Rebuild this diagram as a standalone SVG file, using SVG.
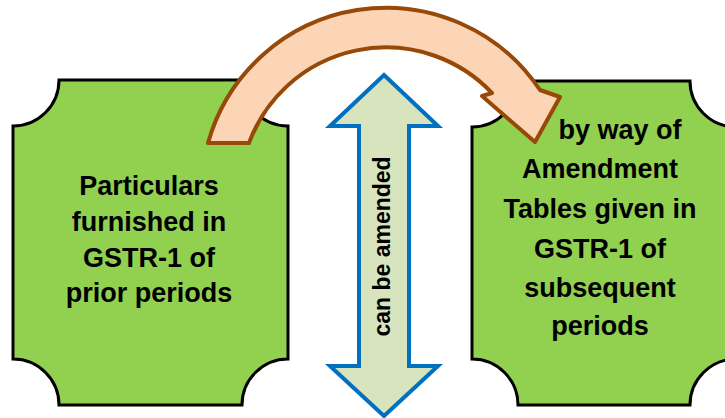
<svg xmlns="http://www.w3.org/2000/svg" width="725" height="418" viewBox="0 0 725 418">
  <style>
    .plaque { fill: #92D050; stroke: #000000; stroke-width: 3; stroke-linejoin: miter; }
    .label { font-family: "Liberation Sans", Arial, sans-serif; font-weight: bold; font-size: 27px; fill: #000000; text-anchor: middle; }
    .updown { fill: #D7E4BD; stroke: #0070C0; stroke-width: 4; stroke-linejoin: miter; }
    .curve { fill: #FBD5B5; stroke: #984807; stroke-width: 4; stroke-linejoin: round; }
    .vlabel { font-family: "Liberation Sans", Arial, sans-serif; font-weight: bold; font-size: 23px; fill: #000000; text-anchor: middle; }
  </style>

  <rect width="725" height="418" fill="#FFFFFF"/>

  <!-- Left plaque: earlier returns -->
  <g id="prior-periods">
    <path class="plaque" d="M 59,80 H 242 A 46 46 0 0 0 288,126 V 359 A 46 46 0 0 0 242,405 H 59 A 46 46 0 0 0 13,359 V 126 A 46 46 0 0 0 59,80 Z"/>
    <text class="label" x="149" y="195">Particulars</text>
    <text class="label" x="149" y="231">furnished in</text>
    <text class="label" x="149" y="267">GSTR-1 of</text>
    <text class="label" x="149" y="302">prior periods</text>
  </g>

  <!-- Right plaque: later returns (extends past the right edge) -->
  <g id="subsequent-periods">
    <path class="plaque" d="M 518,81 H 690 A 46 46 0 0 0 736,127 V 359 A 46 46 0 0 0 690,405 H 518 A 46 46 0 0 0 472,359 V 127 A 46 46 0 0 0 518,81 Z"/>
    <text class="label" x="620" y="139">by way of</text>
    <text class="label" x="600" y="178">Amendment</text>
    <text class="label" x="600" y="218">Tables given in</text>
    <text class="label" x="600" y="258">GSTR-1 of</text>
    <text class="label" x="600" y="297">subsequent</text>
    <text class="label" x="600" y="335">periods</text>
  </g>

  <g id="connectors">
    <!-- Vertical double-headed arrow -->
    <g id="amend-arrow">
      <polygon class="updown" points="384,75 438,126 409,126 409,366 438,366 384,416 330,366 359,366 359,126 330,126"/>
      <text class="vlabel" transform="translate(390,246.5) rotate(-90)">can be amended</text>
    </g>
    <!-- Curved arrow from left plaque over to right plaque -->
    <path id="curved-arrow" class="curve" d="M 208,143 A 185 185 0 0 1 540,90 L 560,97 L 535,142 L 482,96 L 492,93 A 146 146 0 0 0 249,143 Z"/>
  </g>
</svg>
